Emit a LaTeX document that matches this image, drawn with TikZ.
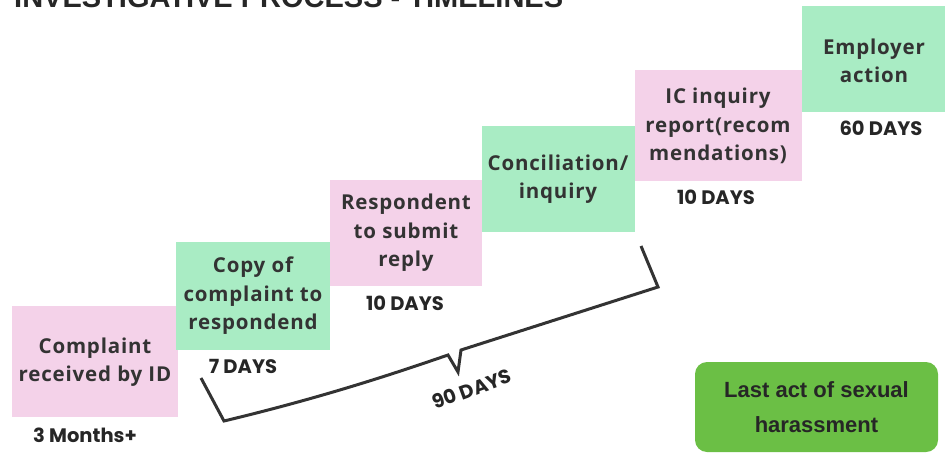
\documentclass[tikz,border=0pt]{standalone}
\usepackage{fontspec}
\setmainfont{Open Sans}[LetterSpace=4]
\newfontfamily\popfont{Poppins}
\newfontfamily\arialfont{Liberation Sans}
\definecolor{pinkbox}{HTML}{F4D2E9}
\definecolor{greenbox}{HTML}{A9ECC4}
\definecolor{leafgreen}{HTML}{6BBF45}
\definecolor{txt}{HTML}{333333}
\begin{document}
\begin{tikzpicture}[x=1pt,y=-1pt,
  stepbox/.style={inner sep=0pt,align=center,text=txt,font=\bfseries\fontsize{20.5}{28.5}\selectfont},
  daylabel/.style={inner sep=0pt,text=black!85,font=\popfont\bfseries\fontsize{19.5}{20}\selectfont},
  bracepath/.style={draw=black!80,line width=3pt,line join=miter}]
\useasboundingbox (0,0) rectangle (945,455);
\clip (0,0) rectangle (945,455);
% title (cut off at top)
\node[anchor=base west,inner sep=0pt,font=\arialfont\bfseries\fontsize{29}{29}\selectfont,text=black!85] (title) at (14,8) {INVESTIGATIVE PROCESS - TIMELINES};
% boxes
\fill[pinkbox] (12,306) rectangle (178,417);
\node[stepbox] (b1) at (95,362) {Complaint\\received by ID};
\fill[greenbox] (176,242) rectangle (330,350);
\node[stepbox] (b2) at (253,296) {Copy of\\complaint to\\respondend};
\fill[pinkbox] (330,180) rectangle (482,286);
\node[stepbox] (b3) at (406,233) {Respondent\\to submit\\reply};
\fill[greenbox] (482,126) rectangle (635,232);
\node[stepbox] (b4) at (558,179) {Conciliation/\\inquiry};
\fill[pinkbox] (635,70) rectangle (802,181);
\node[stepbox] (b5) at (718,126) {IC inquiry\\report(recom\\mendations)};
\fill[greenbox] (802,6) rectangle (945,112);
\node[stepbox] (b6) at (874,61) {Employer\\action};
% day labels
\node[daylabel] (d1) at (85,435) {3 Months+};
\node[daylabel] (d2) at (243,366) {7 DAYS};
\node[daylabel] (d3) at (405,303) {10 DAYS};
\node[daylabel] (d5) at (716,197) {10 DAYS};
\node[daylabel] (d6) at (881,128) {60 DAYS};
% brace
\coordinate (bs) at (201,378);
\coordinate (bc) at (224,421);
\coordinate (nl) at (448,355);
\coordinate (nb) at (458,372);
\coordinate (nr) at (461,350);
\coordinate (ec) at (658,287);
\coordinate (ee) at (641,246);
\draw[bracepath] (bs) -- (bc) .. controls (320,398) and (390,375) .. (nl) -- (nb) -- (nr) -- (ec) -- (ee);
\node[daylabel,rotate=20] (d90) at (472,389) {90 DAYS};
% last act
\node[fill=leafgreen,rounded corners=12pt,minimum width=243pt,minimum height=90pt,inner sep=0pt,align=center,
  font=\arialfont\bfseries\fontsize{22}{35}\selectfont,text=black!85] (last) at (816.5,407) {Last act of sexual\\harassment};
\end{tikzpicture}
\end{document}
